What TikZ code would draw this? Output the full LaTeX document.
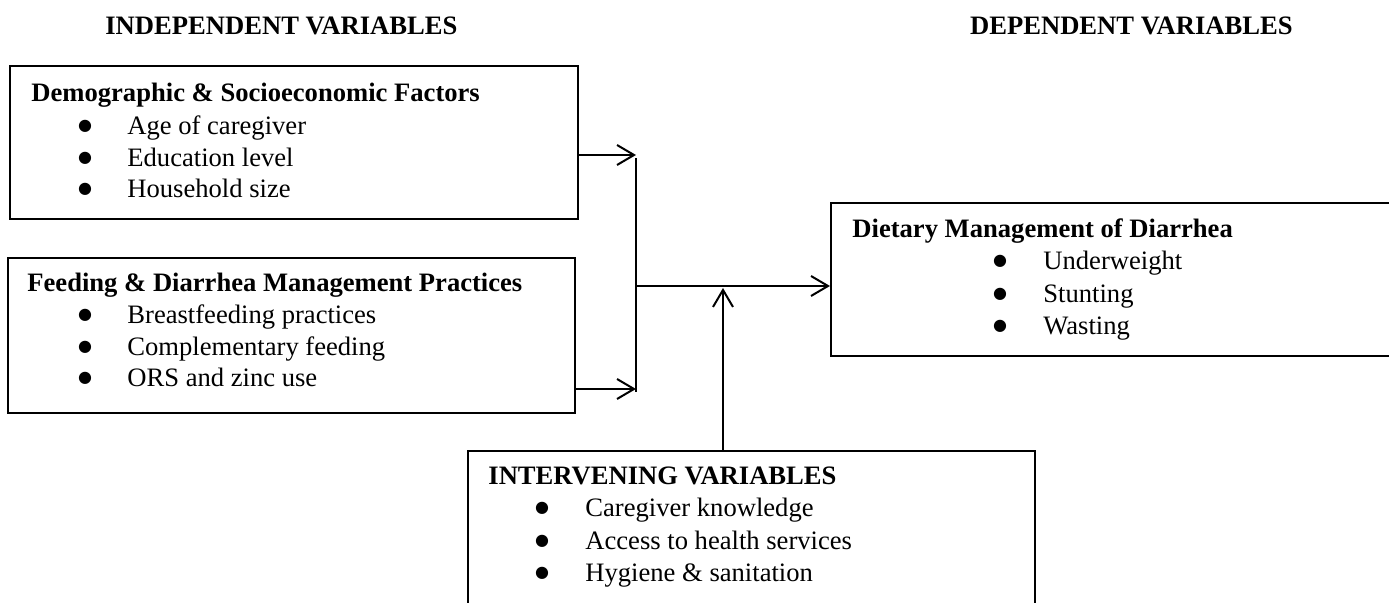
\documentclass[tikz,border=0pt]{standalone}
\usepackage{fontspec}
\setmainfont{Liberation Serif}
\newfontfamily\dvsans{DejaVu Sans}
\usetikzlibrary{arrows.meta}
\tikzset{
  box/.style={draw, line width=1pt, rectangle, inner sep=0pt, anchor=north west},
  txt/.style={anchor=base west, inner sep=0pt, font=\fontsize{13.3}{15}\selectfont},
  ttl/.style={txt, font=\fontsize{13.3}{15}\selectfont\bfseries},
  bul/.style={anchor=base, inner sep=0pt, yshift=2pt, font=\dvsans\fontsize{8}{9}\selectfont},
  conn/.style={line width=1pt},
  arr/.style={conn, -{Straight Barb[length=8.5pt,width=10pt,line width=1pt]}}
}
\newcommand{\bdot}{●}
\begin{document}
\begin{tikzpicture}[x=0.5pt,y=-0.5pt]
\useasboundingbox (0,0) rectangle (1389,603);
\clip (0,0) rectangle (1389,603);
% headings
\node[ttl] (hind) at (105,35) {INDEPENDENT VARIABLES};
\node[ttl, anchor=base east] (hdep) at (1293,35) {DEPENDENT VARIABLES};
% box 1
\node[box, minimum width=284pt, minimum height=76.5pt] (b1) at (9,65) {};
\node[ttl] (t1) at (31,102) {Demographic \& Socioeconomic Factors};
\node[bul] (b1d1) at (85,135) {\bdot};
\node[txt] (b1i1) at (127,135) {Age of caregiver};
\node[bul] (b1d2) at (85,166.5) {\bdot};
\node[txt] (b1i2) at (127,166.5) {Education level};
\node[bul] (b1d3) at (85,198) {\bdot};
\node[txt] (b1i3) at (127,198) {Household size};
% box 2
\node[box, minimum width=283.5pt, minimum height=77.5pt] (b2) at (7,257) {};
\node[ttl] (t2) at (27,292) {Feeding \& Diarrhea Management Practices};
\node[bul] (b2d1) at (85,324) {\bdot};
\node[txt] (b2i1) at (127,324) {Breastfeeding practices};
\node[bul] (b2d2) at (85,355.5) {\bdot};
\node[txt] (b2i2) at (127,355.5) {Complementary feeding};
\node[bul] (b2d3) at (85,387) {\bdot};
\node[txt] (b2i3) at (127,387) {ORS and zinc use};
% box 3
\node[box, minimum width=285pt, minimum height=76.5pt] (b3) at (830,202) {};
\node[ttl] (t3) at (852,238) {Dietary Management of Diarrhea};
\node[bul] (b3d1) at (1000,270) {\bdot};
\node[txt] (b3i1) at (1043,270) {Underweight};
\node[bul] (b3d2) at (1000,302.5) {\bdot};
\node[txt] (b3i2) at (1043,302.5) {Stunting};
\node[bul] (b3d3) at (1000,335) {\bdot};
\node[txt] (b3i3) at (1043,335) {Wasting};
% box 4
\node[box, minimum width=283.5pt, minimum height=82pt] (b4) at (467,450) {};
\node[ttl] (t4) at (488,485) {INTERVENING VARIABLES};
\node[bul] (b4d1) at (542,517) {\bdot};
\node[txt] (b4i1) at (585,517) {Caregiver knowledge};
\node[bul] (b4d2) at (542,549.5) {\bdot};
\node[txt] (b4i2) at (585,549.5) {Access to health services};
\node[bul] (b4d3) at (542,582) {\bdot};
\node[txt] (b4i3) at (585,582) {Hygiene \& sanitation};
% connectors
\coordinate (jt) at (636,155);
\coordinate (jb) at (636,389);
\coordinate (vt) at (636,158);
\coordinate (vb) at (636,392);
\coordinate (jm) at (636,286);
\coordinate (ja) at (723,288);
\draw[arr] (b1.east |- jt) -- (jt);
\draw[arr] (b2.east |- jb) -- (jb);
\draw[conn] (vt) -- (vb);
\draw[arr] (jm) -- (b3.west |- jm);
\draw[arr] (b4.north -| ja) -- (ja);
\end{tikzpicture}
\end{document}
